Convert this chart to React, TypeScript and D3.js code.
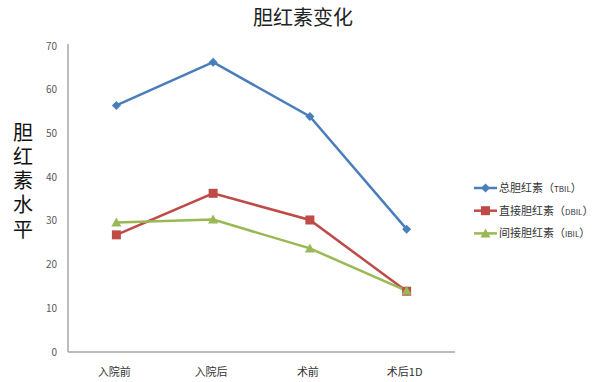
import React from "react";
import * as d3 from "d3";

const categories = ["入院前", "入院后", "术前", "术后1D"];
const tbil = [56.4, 66.3, 53.9, 28.1];
const dbil = [26.8, 36.3, 30.2, 13.9];
const ibil = [29.6, 30.3, 23.7, 14.0];
const yTicks = [0, 10, 20, 30, 40, 50, 60, 70];
const seriesNames = ["总胆红素", "直接胆红素", "间接胆红素"];
const seriesCodes = ["TBIL", "DBIL", "IBIL"];
const colors = ["#4a7ebb", "#be4b48", "#98b954"];
const yTitle = "胆红素水平";

const W = 600, H = 382;
const left = 68, right = 455, top = 46, bottom = 352;

export default function App() {
  const x = d3.scaleBand<string>().domain(categories).range([left, right]);
  const y = d3.scaleLinear().domain([0, 70]).range([bottom, top]);
  const line = d3.line<number>()
    .x((_, i) => (x(categories[i]) as number) + x.bandwidth() / 2)
    .y((d) => y(d));
  const all = [tbil, dbil, ibil];
  const cx = (i: number) => (x(categories[i]) as number) + x.bandwidth() / 2;

  const marker = (k: number, px: number, py: number, key: string) => {
    if (k === 0) {
      const s = 4.5;
      return <path key={key} d={`M${px},${py - s}L${px + s},${py}L${px},${py + s}L${px - s},${py}Z`} fill={colors[0]} />;
    }
    if (k === 1) {
      return <rect key={key} x={px - 4.5} y={py - 4.5} width={9} height={9} fill={colors[1]} />;
    }
    const s = 5;
    return <path key={key} d={`M${px},${py - s}L${px + s},${py + s * 0.8}L${px - s},${py + s * 0.8}Z`} fill={colors[2]} />;
  };

  return (
    <svg width={W} height={H} style={{ position: "absolute", left: 0, top: 0, background: "#fff" }}
      fontFamily="'Noto Sans CJK SC', 'Noto Sans', sans-serif">
      <rect width={W} height={H} fill="#fff" />
      <text x={303} y={25} textAnchor="middle" fontSize={20} fill="#222">胆红素变化</text>
      <text x={23} y={122} fontSize={20} fill="#111" letterSpacing={4.3}
        style={{ writingMode: "vertical-rl" }}>{yTitle}</text>
      <line x1={left} x2={left} y1={top - 2} y2={bottom} stroke="#a6a6a6" strokeWidth={1.5} />
      <line x1={left} x2={right} y1={bottom} y2={bottom} stroke="#a6a6a6" strokeWidth={1.5} />
      {yTicks.map((t) => (
        <text key={t} x={57} y={y(t)} dy="0.35em" textAnchor="end" fontSize={10} fill="#595959">{t}</text>
      ))}
      {categories.map((c, i) => (
        <text key={c} x={cx(i) - 2} y={372} dy="0.35em" textAnchor="middle" fontSize={11} fill="#333">{c}</text>
      ))}
      {all.map((s, k) => (
        <path key={k} d={line(s) as string} fill="none" stroke={colors[k]} strokeWidth={2.5} />
      ))}
      {all.map((s, k) => s.map((v, i) => marker(k, cx(i), y(v), `${k}-${i}`)))}
      {seriesNames.map((n, k) => {
        const ly = 188 + k * 22.7;
        return (
          <g key={n}>
            <line x1={474} x2={497} y1={ly} y2={ly} stroke={colors[k]} strokeWidth={2.5} />
            {marker(k, 485.5, ly, `l${k}`)}
            <text x={499} y={ly} dy="0.35em" fontSize={11} fill="#333">
              {n}
              <tspan>（</tspan>
              <tspan fontSize={8}>{seriesCodes[k]}</tspan>
              <tspan>）</tspan>
            </text>
          </g>
        );
      })}
    </svg>
  );
}
